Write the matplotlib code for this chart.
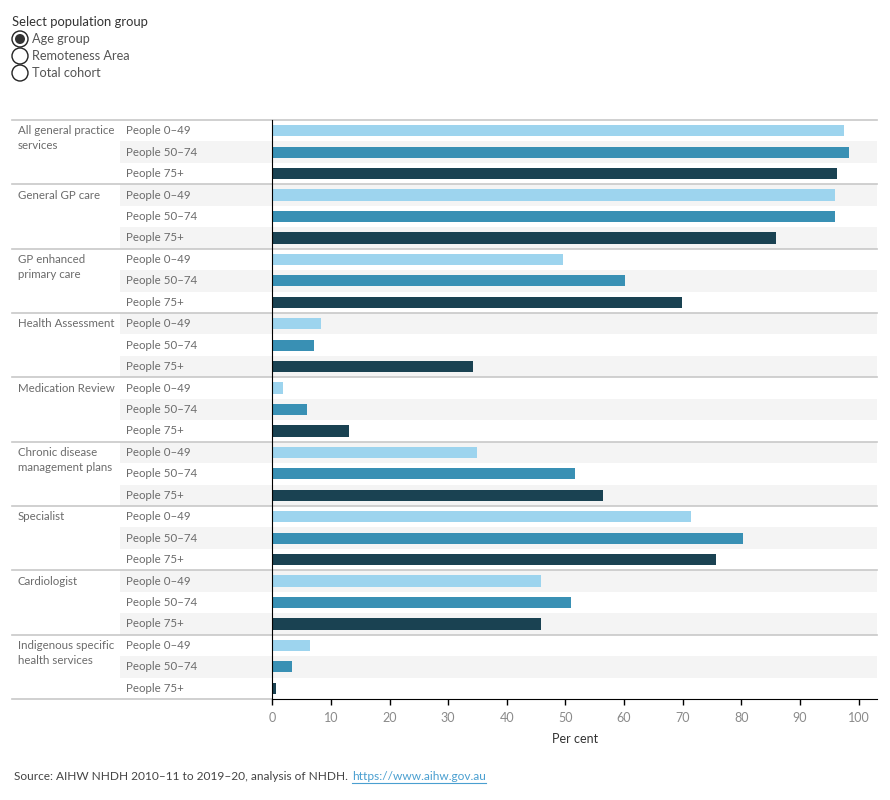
import matplotlib.pyplot as plt
from matplotlib.patches import Rectangle, Circle
from matplotlib.lines import Line2D
from matplotlib.transforms import blended_transform_factory

plt.rcParams['font.family'] = ['Lato', 'DejaVu Sans']

groups = ['All general practice\nservices', 'General GP care', 'GP enhanced\nprimary care',
          'Health Assessment', 'Medication Review', 'Chronic disease\nmanagement plans',
          'Specialist', 'Cardiologist', 'Indigenous specific\nhealth services']
ages = ['People 0\u201349', 'People 50\u201374', 'People 75+']

age_0_49 = [97.6, 96.0, 49.6, 8.3, 1.8, 34.9, 71.4, 45.9, 6.4]
age_50_74 = [98.3, 95.9, 60.2, 7.1, 5.9, 51.7, 80.3, 51.0, 3.4]
age_75 = [96.4, 85.9, 69.9, 34.2, 13.1, 56.4, 75.7, 45.9, 0.6]

series = [age_0_49, age_50_74, age_75]
colors = ['#9dd4ee', '#3990b4', '#1a4252']

W, H = 890, 800
fig = plt.figure(figsize=(W / 100, H / 100), dpi=100)
ax = fig.add_axes([272.3 / W, 1 - 699 / H, (877.3 - 272.3) / W, (699 - 120) / H])
ov = fig.add_axes([0, 0, 1, 1], zorder=-1)
ov.set_xlim(0, W)
ov.set_ylim(H, 0)
ov.axis('off')

n_rows = len(groups) * len(ages)
ax.set_ylim(n_rows, 0)
ax.set_xlim(0, 103.2)

# x in pixels, y in row units
tr = blended_transform_factory(ov.transData, ax.transData)

for g, name in enumerate(groups):
    for a, lab in enumerate(ages):
        r = g * 3 + a
        if r % 2 == 1:
            ax.add_patch(Rectangle((120, r), 877.3 - 120, 1, transform=tr,
                                   facecolor='#f4f4f4', edgecolor='none',
                                   clip_on=False, zorder=0))
        ax.text(126, r + 0.5, lab, transform=tr, va='center', ha='left',
                fontsize=8.3, color='#6b6b6b')
        ax.barh(r + 0.5, series[a][g], height=0.52, color=colors[a], zorder=2)
    for k, line in enumerate(name.split('\n')):
        ax.text(18, g * 3 + 0.5 + 0.7 * k, line, transform=tr, va='center',
                ha='left', fontsize=8.3, color='#6b6b6b')

# group separators
for g in range(len(groups) + 1):
    x_end = 877.3 if g < len(groups) else 272.3
    ax.add_line(Line2D([12, x_end], [g * 3, g * 3], transform=tr, color='#c8c8c8',
                       lw=1.2, clip_on=False, zorder=1))

for s in ['top', 'right']:
    ax.spines[s].set_visible(False)
ax.spines['left'].set_zorder(3)
ax.spines['bottom'].set_zorder(3)
ax.patch.set_alpha(0)
ax.set_yticks([])
ax.set_xticks(range(0, 101, 10))
ax.tick_params(axis='x', direction='out', length=4, width=1, color='black',
               labelcolor='#8a8a8a', labelsize=9, pad=5)
ax.set_xlabel('Per cent', fontsize=9, color='#333333', labelpad=7)

# selector
ov.text(12, 22, 'Select population group', fontsize=9.4, color='#333333', va='center')
options = ['Age group', 'Remoteness Area', 'Total cohort']
for i, opt in enumerate(options):
    y = 39 + 17 * i
    ov.add_patch(Circle((20, y), 8, facecolor='white', edgecolor='#222222', lw=1))
    if i == 0:
        ov.add_patch(Circle((20, y), 5, facecolor='#333333', edgecolor='none'))
    ov.text(32, y, opt, fontsize=9.2, color='#555555', va='center')

# source with link
src = ov.text(14, 776, 'Source: AIHW NHDH 2010\u201311 to 2019\u201320, analysis of NHDH.',
              fontsize=8.6, color='#444444', va='center')
rend = fig.canvas.get_renderer()
bb = src.get_window_extent(rend)
x_link = bb.x1 + 4
link = ov.text(x_link, 776, 'https://www.aihw.gov.au', fontsize=8.6, color='#4a9fd0',
               va='center')
lb = link.get_window_extent(rend)
ov.plot([x_link, lb.x1], [783, 783], color='#4a9fd0', lw=0.8)

fig.savefig('out.png', dpi=100)
